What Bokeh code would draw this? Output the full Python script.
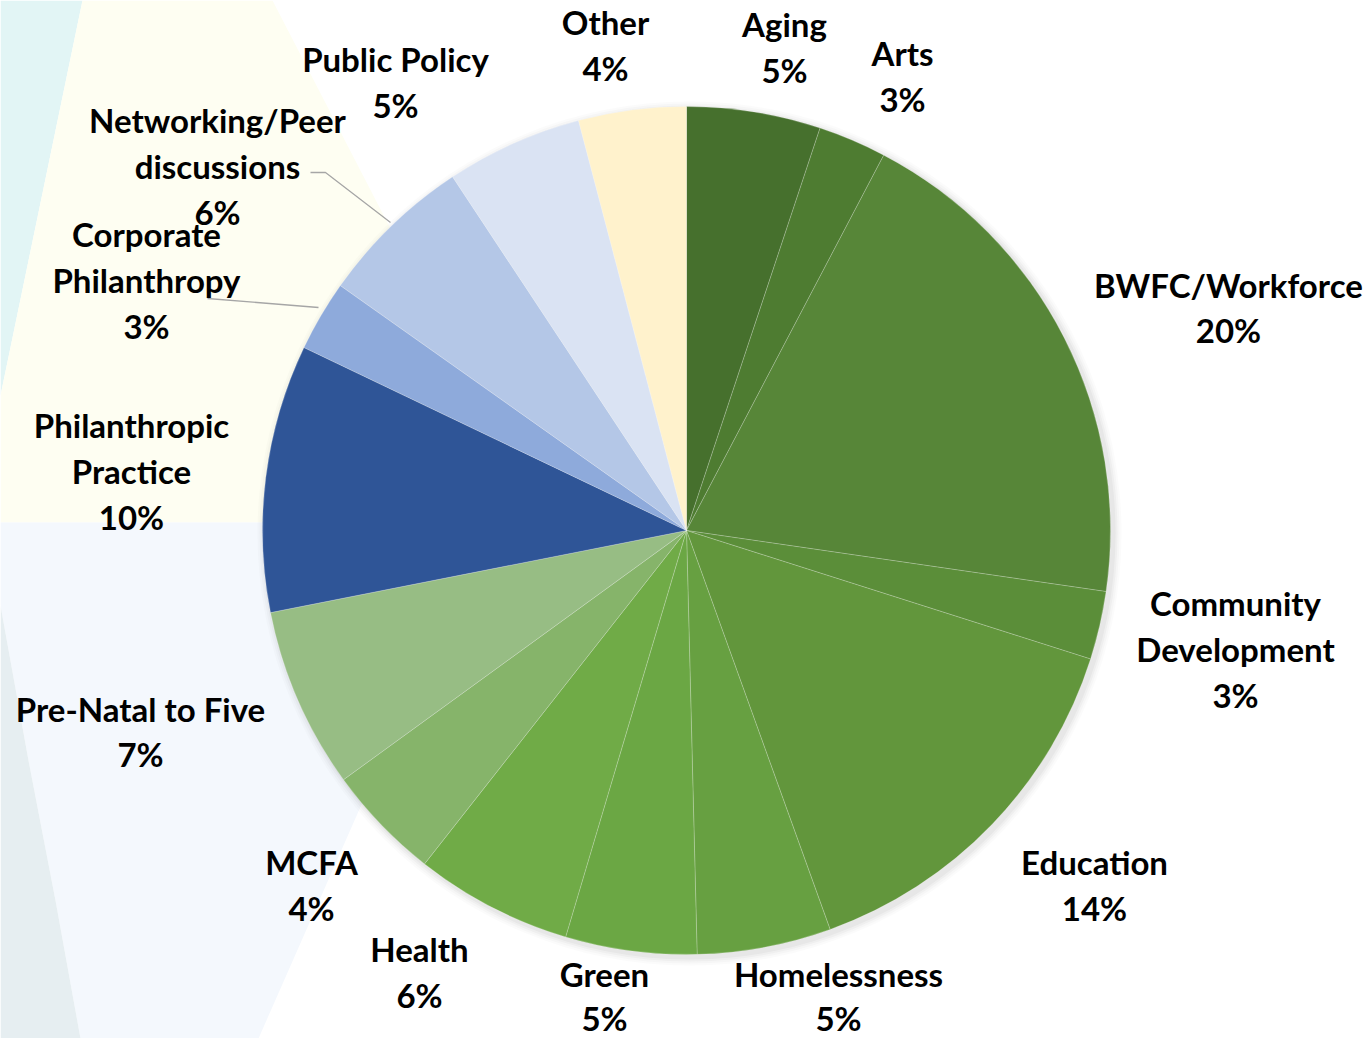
import numpy as np
from bokeh.plotting import figure
from bokeh.models import Range1d, ColumnDataSource
from bokeh.core.properties import value
from bokeh.embed import file_html
from bokeh.resources import INLINE

# ---------------- data ----------------
categories = ["Aging", "Arts", "BWFC/Workforce", "Community Development", "Education",
              "Homelessness", "Green", "Health", "MCFA", "Pre-Natal to Five",
              "Philanthropic Practice", "Corporate Philanthropy",
              "Networking/Peer discussions", "Public Policy", "Other"]
shares = [5.1, 2.6, 19.6, 2.6, 14.6, 5.1, 5.0, 6.0, 4.4, 6.9, 10.2, 2.7, 5.9, 5.2, 4.1]
pct_labels = ["5%", "3%", "20%", "3%", "14%", "5%", "5%", "6%", "4%", "7%",
              "10%", "3%", "6%", "5%", "4%"]
label_lines = [["Aging"], ["Arts"], ["BWFC/Workforce"], ["Community", "Development"],
               ["Education"], ["Homelessness"], ["Green"], ["Health"], ["MCFA"],
               ["Pre-Natal to Five"], ["Philanthropic", "Practice"],
               ["Corporate", "Philanthropy"], ["Networking/Peer", "discussions"],
               ["Public Policy"], ["Other"]]
colors = ["#46702d", "#4e7c31", "#578638", "#5b8e39", "#62963c", "#67a041", "#6ba744",
          "#70ab47", "#86b46a", "#97bd84", "#2f5597", "#8eaadb", "#b4c7e7", "#dae3f3",
          "#fff2cc"]

# ---------------- layout (reference pixel space, y down) ----------------
W, H = 1370, 1038
CX, CY, R = 686, 530, 424
label_pos = [(784, 23), (902, 52), (1228, 284), (1235, 602), (1094, 861), (838, 973),
             (604, 973), (419, 948), (311, 861), (140, 708), (131, 424), (146, 233),
             (217, 119), (395, 58), (605, 21)]
line_h = [46, 46, 45, 46, 46, 44, 44, 46, 46, 45, 46, 46, 46, 46, 46]

def fy(Y):
    return H - Y

p = figure(width=W, height=H, x_range=Range1d(0, W), y_range=Range1d(0, H),
           output_backend="svg", toolbar_location=None, min_border=0)
p.axis.visible = False
p.grid.visible = False
p.outline_line_color = None
p.background_fill_color = "white"
p.border_fill_color = "white"

# background decoration
def patch(pts, color):
    xs = [a for a, b in pts]
    ys = [fy(b) for a, b in pts]
    p.patch(xs, ys, fill_color=color, line_color=None)

patch([(0, 0), (82, 0), (0, 395)], "#e2f5f5")
patch([(82, 0), (272, 0), (392, 232), (430, 300), (430, 522), (0, 522), (0, 395)], "#fefef2")
patch([(0, 522), (430, 522), (430, 700), (365, 795), (258, 1038), (80, 1038),
       (55, 900), (28, 760), (0, 605)], "#f4f8fd")
patch([(0, 605), (28, 760), (55, 900), (80, 1038), (0, 1038)], "#e6eef1")

# soft shadow
for dr, a in [(8, 0.03), (6, 0.04), (4, 0.05), (2, 0.07)]:
    p.circle(x=[CX + 3], y=[fy(CY) - 3], radius=R + dr, fill_color="#7f7f7f",
             fill_alpha=a, line_color=None)

# wedges
vals = np.array(shares, dtype=float)
frac = vals / vals.sum()
cum = np.concatenate([[0], np.cumsum(frac)])
start = np.pi / 2 - cum[1:] * 2 * np.pi
end = np.pi / 2 - cum[:-1] * 2 * np.pi
src = ColumnDataSource(dict(start=start, end=end, color=colors, cat=categories))
p.wedge(x=CX, y=fy(CY), radius=R, start_angle="start", end_angle="end",
        fill_color="color", line_color="white", line_alpha=0.35, line_width=0.6,
        source=src)

# leader lines
p.line([310, 325, 390], [fy(172), fy(172), fy(222)], line_color="#a6a6a6", line_width=1.3)
p.line([207, 318], [fy(298), fy(307)], line_color="#a6a6a6", line_width=1.3)

# labels
tx, ty, tt = [], [], []
for lines, pct, (lx, ly), lh in zip(label_lines, pct_labels, label_pos, line_h):
    for i, s in enumerate(lines + [pct]):
        tx.append(lx)
        ty.append(fy(ly + i * lh))
        tt.append(s)
p.text(x=tx, y=ty, text=tt, text_font=value("Lato"), text_font_style="bold",
       text_font_size="33px", text_align="center", text_baseline="middle",
       text_color="black")

open("out.html", "w").write(file_html(p, INLINE))
